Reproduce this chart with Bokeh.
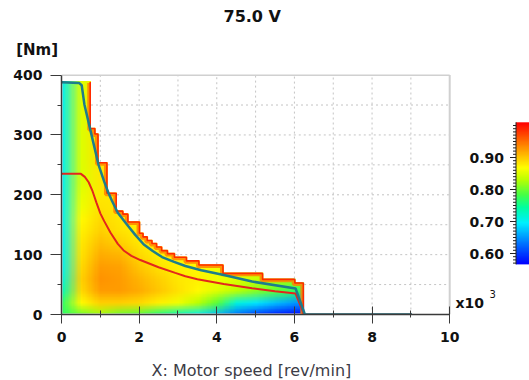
import base64
import struct
import zlib

import numpy as np
from bokeh.plotting import figure
from bokeh.models import Range1d, LinearColorMapper, FixedTicker, Title, LinearAxis
from bokeh.embed import file_html
from bokeh.resources import INLINE
from bokeh.core.properties import value

# ---------------- data ----------------
title_text = "75.0 V"
y_unit_text = "[Nm]"
x_label_text = "X: Motor speed [rev/min]"
x_major = [0, 2, 4, 6, 8, 10]
x_minor = [1, 3, 5, 7, 9]
y_major = [0, 100, 200, 300, 400]
y_minor = [50, 150, 250, 350]
cbar_ticks = [0.60, 0.70, 0.80, 0.90]
cbar_low, cbar_high = 0.566, 1.01

# efficiency grid (speed in 10^3 rev/min, torque in Nm)
speed_grid = [0.0, 0.5, 1.0, 1.5, 2.0, 2.5, 3.0, 3.5, 4.0, 4.5, 5.0, 5.5, 6.0, 6.5]
torque_grid = [0, 20, 40, 60, 80, 100, 120, 140, 160, 180, 200,
               220, 240, 260, 280, 300, 320, 340, 360, 380, 400]
eff_s0_0 = [0.77, 0.77, 0.73, 0.71, 0.70, 0.70, 0.70, 0.70, 0.70, 0.70, 0.70,
            0.70, 0.70, 0.70, 0.70, 0.70, 0.70, 0.70, 0.70, 0.70, 0.70]
eff_s0_5 = [0.80, 0.87, 0.89, 0.895, 0.89, 0.885, 0.88, 0.875, 0.87, 0.86, 0.855,
            0.85, 0.85, 0.85, 0.85, 0.85, 0.85, 0.85, 0.85, 0.85, 0.85]
eff_s1_0 = [0.82, 0.895, 0.925, 0.93, 0.925, 0.915, 0.905, 0.895, 0.89, 0.885, 0.88,
            0.88, 0.88, 0.885, 0.885, 0.885, 0.885, 0.885, 0.885, 0.885, 0.885]
eff_s1_5 = [0.80, 0.895, 0.925, 0.925, 0.92, 0.91, 0.895, 0.885, 0.88, 0.88, 0.88,
            0.88, 0.88, 0.88, 0.88, 0.88, 0.88, 0.88, 0.88, 0.88, 0.88]
eff_s2_0 = [0.79, 0.89, 0.915, 0.91, 0.90, 0.89, 0.88, 0.875, 0.875, 0.875, 0.875,
            0.875, 0.875, 0.875, 0.875, 0.875, 0.875, 0.875, 0.875, 0.875, 0.875]
eff_s2_5 = [0.76, 0.875, 0.90, 0.895, 0.885, 0.875, 0.87, 0.87, 0.87, 0.87, 0.87,
            0.87, 0.87, 0.87, 0.87, 0.87, 0.87, 0.87, 0.87, 0.87, 0.87]
eff_s3_0 = [0.73, 0.86, 0.885, 0.88, 0.875, 0.87, 0.87, 0.87, 0.87, 0.87, 0.87,
            0.87, 0.87, 0.87, 0.87, 0.87, 0.87, 0.87, 0.87, 0.87, 0.87]
eff_s3_5 = [0.70, 0.83, 0.87, 0.875, 0.87, 0.865, 0.865, 0.865, 0.865, 0.865, 0.865,
            0.865, 0.865, 0.865, 0.865, 0.865, 0.865, 0.865, 0.865, 0.865, 0.865]
eff_s4_0 = [0.67, 0.79, 0.85, 0.86, 0.86, 0.86, 0.86, 0.86, 0.86, 0.86, 0.86,
            0.86, 0.86, 0.86, 0.86, 0.86, 0.86, 0.86, 0.86, 0.86, 0.86]
eff_s4_5 = [0.63, 0.71, 0.83, 0.85, 0.85, 0.85, 0.85, 0.85, 0.85, 0.85, 0.85,
            0.85, 0.85, 0.85, 0.85, 0.85, 0.85, 0.85, 0.85, 0.85, 0.85]
eff_s5_0 = [0.60, 0.69, 0.81, 0.84, 0.84, 0.84, 0.84, 0.84, 0.84, 0.84, 0.84,
            0.84, 0.84, 0.84, 0.84, 0.84, 0.84, 0.84, 0.84, 0.84, 0.84]
eff_s5_5 = [0.58, 0.67, 0.79, 0.83, 0.83, 0.83, 0.83, 0.83, 0.83, 0.83, 0.83,
            0.83, 0.83, 0.83, 0.83, 0.83, 0.83, 0.83, 0.83, 0.83, 0.83]
eff_s6_0 = [0.57, 0.65, 0.77, 0.82, 0.82, 0.82, 0.82, 0.82, 0.82, 0.82, 0.82,
            0.82, 0.82, 0.82, 0.82, 0.82, 0.82, 0.82, 0.82, 0.82, 0.82]
eff_s6_5 = [0.57, 0.65, 0.77, 0.82, 0.82, 0.82, 0.82, 0.82, 0.82, 0.82, 0.82,
            0.82, 0.82, 0.82, 0.82, 0.82, 0.82, 0.82, 0.82, 0.82, 0.82]

# stepped torque envelope of the map
env_edges = [0.0, 0.76, 0.88, 0.96, 1.19, 1.43, 1.60, 1.73, 2.03, 2.12, 2.23,
             2.35, 2.47, 2.60, 2.75, 2.93, 3.24, 3.56, 4.18, 5.20, 6.03, 6.25]
env_levels = [390, 312, 303, 255, 204, 174, 169, 156, 137, 131, 125,
              120, 114, 108, 103, 97, 91, 84, 70, 60, 54]

# max torque curve (teal) and red curve
teal_speed = [0.0, 0.45, 0.52, 0.59, 0.77, 0.955, 1.1, 1.21, 1.3, 1.45, 1.69, 1.9,
              2.12, 2.35, 2.59, 2.9, 3.19, 3.6, 4.18, 4.91, 6.03, 6.27, 9.03]
teal_torque = [388, 387, 383, 351, 301, 250, 222, 203, 190, 170, 150, 133,
               117, 106, 96, 88, 81, 74, 66, 55, 43.5, 0, 0]
red_speed = [0.0, 0.5, 0.6, 0.7, 0.8, 0.9, 1.0, 1.1, 1.26, 1.45, 1.6, 1.8,
             2.03, 2.5, 2.93, 3.19, 3.5, 4.18, 4.91, 5.5, 6.03, 6.25, 9.03]
red_torque = [235, 235, 230, 221, 206, 187, 169, 156, 137, 118, 107, 98,
              91, 79, 69.6, 64, 59, 51, 44, 39, 35, 0, 0]

# ---------------- styling ----------------
FONT = "DejaVu Sans"
anchors = [(0.00, (0, 0, 255)), (0.15, (0, 120, 255)), (0.29, (0, 240, 255)),
           (0.40, (0, 255, 160)), (0.49, (70, 255, 70)), (0.60, (190, 255, 0)),
           (0.68, (255, 255, 0)), (0.83, (255, 140, 0)), (1.00, (255, 0, 0))]
at = [a[0] for a in anchors]
tt = np.linspace(0, 1, 256)
chans = [np.interp(tt, at, [a[1][k] for a in anchors]) for k in range(3)]
rgb_table = [(int(r), int(g), int(b)) for r, g, b in zip(*chans)]
palette = ["#%02x%02x%02x" % c for c in rgb_table]
mapper = LinearColorMapper(palette=palette, low=cbar_low, high=cbar_high)

PX_PER_K = 38.82
W, H = 529, 380
FL, FT, FB = 61, 74, 314
x_end = (W - FL) / PX_PER_K
p = figure(width=W, height=H, x_range=Range1d(0, x_end), y_range=Range1d(0, 401),
           output_backend="svg", toolbar_location=None,
           min_border_left=FL, min_border_right=0, min_border_top=FT,
           min_border_bottom=H - FB)
p.title.visible = False
p.outline_line_color = None
p.background_fill_color = "white"
p.border_fill_color = "white"
p.xgrid.grid_line_color = None
p.ygrid.grid_line_color = None
xa = p.below[0]
ya = p.left[0]

cb_top = 0.90 + (157 - FT) / 320
cb_bot = 0.90 - (FB - 157) / 320
p.extra_y_ranges = {"cb": Range1d(cb_bot, cb_top)}

# ---------------- heat map (cells coloured with the palette, smoothed by the browser) ----------------
cols = [eff_s0_0, eff_s0_5, eff_s1_0, eff_s1_5, eff_s2_0, eff_s2_5, eff_s3_0,
        eff_s3_5, eff_s4_0, eff_s4_5, eff_s5_0, eff_s5_5, eff_s6_0, eff_s6_5]
eff = np.array(cols).T  # rows = torque (bottom first), cols = speed


def color_of(v):
    k = int((v - cbar_low) / (cbar_high - cbar_low) * 255.999)
    return rgb_table[min(255, max(0, k))]


def png_url(grid):
    rows = grid[::-1]  # PNG rows go top to bottom
    h, w = rows.shape
    raw = b""
    for row in rows:
        raw += b"\x00" + bytes(c for v in row for c in (*color_of(v), 255))

    def chunk(tag, data):
        return (struct.pack(">I", len(data)) + tag + data +
                struct.pack(">I", zlib.crc32(tag + data) & 0xFFFFFFFF))

    png = (b"\x89PNG\r\n\x1a\n" +
           chunk(b"IHDR", struct.pack(">IIBBBBB", w, h, 8, 6, 0, 0, 0)) +
           chunk(b"IDAT", zlib.compress(raw, 9)) + chunk(b"IEND", b""))
    return "data:image/png;base64," + base64.b64encode(png).decode()


ds = speed_grid[1] - speed_grid[0]
dt = torque_grid[1] - torque_grid[0]
p.image_url(url=[png_url(eff)], x=speed_grid[0] - ds / 2, y=torque_grid[0] - dt / 2,
            w=ds * len(speed_grid), h=dt * len(torque_grid), anchor="bottom_left")

# white cover above the envelope
cx, cy = [], []
for i, lvl in enumerate(env_levels):
    cx += [env_edges[i], env_edges[i + 1]]
    cy += [lvl, lvl]
cx = [-1.0] + cx + [env_edges[-1], 7.0, 7.0, -1.0]
cy = [env_levels[0]] + cy + [-15, -15, 420, 420]
p.patch(cx, cy, fill_color="white", line_color=None)


# grid lines (only outside the map)
def env_at(x):
    for i, lvl in enumerate(env_levels):
        if env_edges[i] <= x < env_edges[i + 1]:
            return lvl
    return 0


def env_start(t):
    for i, lvl in enumerate(env_levels):
        if lvl < t:
            return env_edges[i]
    return env_edges[-1]


gx = [v for v in sorted(x_major + x_minor) if 0 < v < 10]
gy = [v for v in sorted(y_major + y_minor) if 0 < v < 400]
p.segment(x0=gx, x1=gx, y0=[env_at(v) for v in gx], y1=[400] * len(gx),
          line_color="#c4c4c4", line_dash="2 3", line_width=1)
p.segment(x0=[env_start(v) for v in gy], x1=[10] * len(gy), y0=gy, y1=gy,
          line_color="#c4c4c4", line_dash="2 3", line_width=1)

# red/orange fringe along the stepped edge (drawn just inside it)
fx, fy = [], []
for i in range(1, len(env_levels)):
    fx += [env_edges[i], env_edges[i], env_edges[i + 1]]
    fy += [env_levels[i - 1], env_levels[i], env_levels[i]]
fx += [env_edges[-1]]
fy += [0]
PX_PER_NM = (FB - FT) / 401
p.line([v - 2.0 / PX_PER_K for v in fx], [v - 2.0 / PX_PER_NM for v in fy],
       line_color="#ff8200", line_width=3.5, line_alpha=0.85)
p.line([v - 0.8 / PX_PER_K for v in fx], [v - 0.8 / PX_PER_NM for v in fy],
       line_color="#ff2a00", line_width=1.6)

# curves
p.line(red_speed, red_torque, line_color="#e3261c", line_width=2)
p.line(teal_speed, teal_torque, line_color="#1d7d8c", line_width=2.5)

# right and top frame lines
p.segment(x0=[10, 0], x1=[10, 10], y0=[0, 400], y1=[400, 400],
          line_color="#d0d0d0", line_width=2)

# ---------------- axes ----------------
xa.bounds = (0, 10)
xa.ticker = FixedTicker(ticks=x_major, minor_ticks=x_minor)
xa.axis_line_color = "#3a3a3a"
xa.axis_line_width = 1.5
xa.major_tick_line_color = "#3a3a3a"
xa.minor_tick_line_color = "#3a3a3a"
xa.major_tick_in = 8
xa.major_tick_out = 9
xa.minor_tick_in = 4
xa.minor_tick_out = 3
xa.major_label_standoff = 8
xa.major_label_text_font = FONT
xa.major_label_text_font_size = "14px"
xa.major_label_text_font_style = "bold"
xa.major_label_text_color = "#111111"

ya.bounds = (0, 400)
ya.ticker = FixedTicker(ticks=y_major, minor_ticks=y_minor)
ya.axis_line_color = "#3a3a3a"
ya.axis_line_width = 1.5
ya.major_tick_line_color = "#3a3a3a"
ya.minor_tick_line_color = "#3a3a3a"
ya.major_tick_in = 0
ya.major_tick_out = 11
ya.minor_tick_in = 0
ya.minor_tick_out = 4
ya.major_label_standoff = 8
ya.major_label_text_font = FONT
ya.major_label_text_font_size = "14px"
ya.major_label_text_font_style = "bold"
ya.major_label_text_color = "#111111"

# blank spacer below the x axis (one white tick out at the far right, no label)
spacer = LinearAxis(ticker=FixedTicker(ticks=[11]), axis_line_color=None,
                    major_tick_line_color="white", minor_tick_line_color=None,
                    major_tick_in=0, major_tick_out=14, minor_tick_in=0, minor_tick_out=0,
                    major_label_standoff=0, major_label_overrides={11: ""})
p.add_layout(spacer, "below")
p.add_layout(Title(text=x_label_text, align="left", offset=151 - FL, vertical_align="bottom",
                   standoff=0, text_font=FONT, text_font_size="16px",
                   text_font_style="normal", text_color="#3c3c46"), "below")

# ---------------- colour bar (inside the wide frame) ----------------
bar_left = (515.5 - FL) / PX_PER_K
ramp = np.linspace(cbar_low, cbar_high, 256).reshape(-1, 1)
p.image(image=[ramp], x=bar_left, y=cbar_low, dw=0.5, dh=cbar_high - cbar_low,
        color_mapper=mapper, y_range_name="cb")
minor_cb = [round(v, 2) for v in np.arange(0.57, 1.005, 0.01)]
p.segment(x0=[bar_left - 3 / PX_PER_K] * len(minor_cb), x1=[bar_left] * len(minor_cb),
          y0=minor_cb, y1=minor_cb, line_color="#222222", line_width=1, y_range_name="cb")
p.segment(x0=[bar_left - 6 / PX_PER_K] * len(cbar_ticks), x1=[bar_left] * len(cbar_ticks),
          y0=cbar_ticks, y1=cbar_ticks, line_color="#222222", line_width=1.2,
          y_range_name="cb")
p.segment(x0=[bar_left], x1=[bar_left], y0=[cbar_low], y1=[cbar_high],
          line_color="#222222", line_width=1, y_range_name="cb")
p.text(x=[bar_left - 12 / PX_PER_K] * len(cbar_ticks), y=cbar_ticks,
       text=["%.2f" % v for v in cbar_ticks], text_align="right", text_baseline="middle",
       text_font=value(FONT), text_font_size="14px", text_font_style="bold",
       text_color="#111111", y_range_name="cb")

# x10^3 multiplier
p.text(x=[(455 - FL) / PX_PER_K], y=[(FB - 302) / PX_PER_NM], text=["x10"],
       text_align="left", text_baseline="middle", text_font=value(FONT),
       text_font_size="14px", text_font_style="bold", text_color="#111111")
p.text(x=[(489 - FL) / PX_PER_K], y=[(FB - 293) / PX_PER_NM], text=["3"],
       text_align="left", text_baseline="middle", text_font=value(FONT),
       text_font_size="10px", text_color="#111111")

# ---------------- titles above the frame ----------------
p.add_layout(Title(text=y_unit_text, align="left", offset=15.7 - FL, vertical_align="middle",
                   standoff=29, text_font=FONT, text_font_size="15px",
                   text_font_style="bold", text_color="#111111"), "above")
p.add_layout(Title(text=title_text, align="left", offset=223 - FL, vertical_align="bottom",
                   standoff=0, text_font=FONT, text_font_size="16px",
                   text_font_style="bold", text_color="#111111"), "above")

open("out.html", "w").write(file_html(p, INLINE))
